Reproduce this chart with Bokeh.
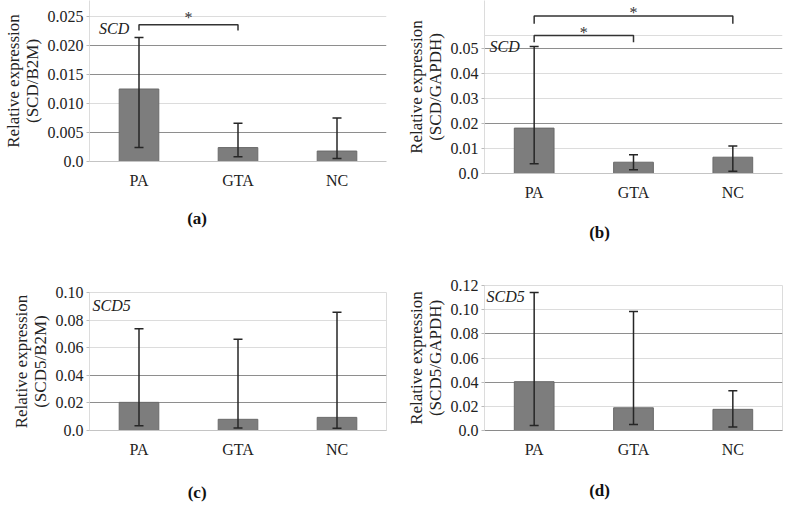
from bokeh.plotting import figure
from bokeh.models import (FactorRange, Range1d, FixedTicker, Grid, Whisker, TeeHead,
                          ColumnDataSource, Label)
from bokeh.layouts import row, column
from bokeh.embed import file_html
from bokeh.resources import INLINE
from bokeh.core.properties import value

categories = ["PA", "GTA", "NC"]

# (a) SCD / B2M
a_mean = [0.0125, 0.0024, 0.0018]
a_low = [0.0024, 0.0008, 0.0005]
a_high = [0.0214, 0.0066, 0.0075]
a_ticks = [0.0, 0.005, 0.010, 0.015, 0.020, 0.025]
a_tick_labels = ["0.0", "0.005", "0.010", "0.015", "0.020", "0.025"]
a_sig_pairs = [("PA", "GTA")]
a_sig_levels = [0.0236]

# (b) SCD / GAPDH
b_mean = [0.0181, 0.0045, 0.0065]
b_low = [0.0039, 0.0015, 0.0009]
b_high = [0.0507, 0.0075, 0.0110]
b_ticks = [0.0, 0.01, 0.02, 0.03, 0.04, 0.05]
b_tick_labels = ["0.0", "0.01", "0.02", "0.03", "0.04", "0.05"]
b_sig_pairs = [("PA", "GTA"), ("PA", "NC")]
b_sig_levels = [0.0550, 0.0628]

# (c) SCD5 / B2M
c_mean = [0.0204, 0.0081, 0.0095]
c_low = [0.0035, 0.0019, 0.0017]
c_high = [0.0738, 0.0662, 0.0856]
c_ticks = [0.0, 0.02, 0.04, 0.06, 0.08, 0.10]
c_tick_labels = ["0.0", "0.02", "0.04", "0.06", "0.08", "0.10"]

# (d) SCD5 / GAPDH
d_mean = [0.0404, 0.0188, 0.0175]
d_low = [0.0041, 0.0049, 0.0028]
d_high = [0.1143, 0.0985, 0.0330]
d_ticks = [0.0, 0.02, 0.04, 0.06, 0.08, 0.10, 0.12]
d_tick_labels = ["0.0", "0.02", "0.04", "0.06", "0.08", "0.10", "0.12"]

panel_letters = ["(a)", "(b)", "(c)", "(d)"]

SERIF = "Liberation Serif"
DARK_GRID = "#8e8e8e"
LIGHT_GRID = "#dcdcdc"
BAR_FILL = "#7d7d7d"
BAR_LINE = "#6a6a6a"
ERR = "#262626"


def make_panel(mean, low, high, ticks, tick_labels, dark, light, y_end, ylabel,
               gene, gene_x, gene_y, sig_pairs, sig_levels, sig_drop, star_off,
               width, height, borders, outline, xaxis_color):
    left, right, top, bottom = borders
    p = figure(x_range=FactorRange(*categories), y_range=Range1d(0, y_end),
               width=width, height=height, output_backend="svg",
               toolbar_location=None, min_border_left=left,
               min_border_right=right, min_border_top=top,
               min_border_bottom=bottom)
    p.outline_line_color = outline
    p.background_fill_color = "white"
    p.border_fill_color = "white"

    src = ColumnDataSource(dict(cat=categories, mean=mean, low=low, high=high))
    p.vbar(x="cat", top="mean", width=0.4, source=src, fill_color=BAR_FILL,
           line_color=BAR_LINE, line_width=1)
    p.add_layout(Whisker(source=src, base="cat", upper="high", lower="low",
                         level="overlay", line_color=ERR, line_width=1.5,
                         upper_head=TeeHead(size=9, line_color=ERR, line_width=1.5),
                         lower_head=TeeHead(size=9, line_color=ERR, line_width=1.5)))

    # grids
    p.xgrid.visible = False
    p.ygrid.ticker = FixedTicker(ticks=dark)
    p.ygrid.grid_line_color = DARK_GRID
    p.ygrid.grid_line_width = 1
    p.add_layout(Grid(dimension=1, ticker=FixedTicker(ticks=light),
                      grid_line_color=LIGHT_GRID, grid_line_width=1))

    # y axis
    p.yaxis.ticker = FixedTicker(ticks=ticks)
    p.yaxis.major_label_overrides = dict(zip(ticks, tick_labels))
    p.yaxis.axis_label = "Relative expression\n(" + ylabel + ")"
    p.yaxis.axis_label_text_font = SERIF
    p.yaxis.axis_label_text_font_size = "17px"
    p.yaxis.axis_label_text_font_style = "normal"
    p.yaxis.axis_label_text_line_height = 1.0
    p.yaxis.axis_label_text_color = "#222222"
    p.yaxis.axis_label_standoff = 3
    p.yaxis.major_label_text_font = SERIF
    p.yaxis.major_label_text_font_size = "16px"
    p.yaxis.major_label_text_color = "#222222"
    p.yaxis.major_label_standoff = 3
    p.yaxis.axis_line_color = LIGHT_GRID
    p.yaxis.major_tick_line_color = "#bbbbbb"
    p.yaxis.major_tick_out = 3
    p.yaxis.major_tick_in = 0
    p.yaxis.minor_tick_line_color = None

    # x axis
    p.xaxis.major_label_text_font = SERIF
    p.xaxis.major_label_text_font_size = "16px"
    p.xaxis.major_label_text_color = "#222222"
    p.xaxis.major_label_standoff = 4
    p.xaxis.axis_line_color = xaxis_color
    p.xaxis.major_tick_line_color = None
    p.xaxis.minor_tick_line_color = None

    # gene label
    p.add_layout(Label(x=gene_x, y=gene_y, text=gene, text_font=SERIF,
                       text_font_size="16px", text_font_style="italic",
                       text_color="#222222", text_baseline="middle",
                       text_align="left"))

    # significance brackets
    for (c1, c2), lvl, dr in zip(sig_pairs, sig_levels, sig_drop):
        p.line(x=[c1, c1, c2, c2], y=[lvl - dr, lvl, lvl, lvl - dr],
               line_color="#333333", line_width=1.5)
        mid = (categories.index(c1) + categories.index(c2)) / 2 + 0.5
        p.text(x=[mid], y=[lvl], text=["*"], text_align="center",
               text_baseline="bottom", text_font=value(SERIF),
               text_font_size="16px", text_color="#333333", y_offset=star_off)
    return p


def make_letter(panel, letter, lab_x, lab_y, width, height, left, right):
    q = figure(x_range=panel.x_range, y_range=Range1d(0, 1), width=width,
               height=height, output_backend="svg", toolbar_location=None,
               min_border_left=left, min_border_right=right, min_border_top=0,
               min_border_bottom=0)
    q.xaxis.visible = False
    q.yaxis.visible = False
    q.xgrid.visible = False
    q.ygrid.visible = False
    q.outline_line_color = None
    q.text(x=[lab_x], y=[lab_y], text=[letter], text_align="center",
           text_baseline="middle", text_font=value(SERIF),
           text_font_size="17px", text_font_style="bold", text_color="#111111")
    return q


pa = make_panel(a_mean, a_low, a_high, a_ticks, a_tick_labels,
                [0.005, 0.015, 0.020], [0.010, 0.025], 0.02776, "SCD/B2M",
                "SCD", 0.097, 0.0229, a_sig_pairs, a_sig_levels, [0.001], 1,
                400, 200, (77, 14, 0, 39), None, "#c4c4c4")
pb = make_panel(b_mean, b_low, b_high, b_ticks, b_tick_labels,
                [0.02, 0.05], [0.01, 0.03, 0.04, 0.055], 0.0690, "SCD/GAPDH",
                "SCD", 0.05, 0.0505, b_sig_pairs, b_sig_levels, [0.0027, 0.0031], 5,
                383, 212, (84, 1, 0, 39), None, "#c4c4c4")
pc = make_panel(c_mean, c_low, c_high, c_ticks, c_tick_labels,
                [0.02, 0.04], [0.06, 0.08], 0.10, "SCD5/B2M",
                "SCD5", 0.03, 0.0906, [], [], [], 0,
                400, 202, (77, 14, 34, 27), LIGHT_GRID, "#c4c4c4")
pd_ = make_panel(d_mean, d_low, d_high, d_ticks, d_tick_labels,
                 [0.04, 0.08], [0.02, 0.06, 0.10], 0.12, "SCD5/GAPDH",
                 "SCD5", 0.02, 0.1113, [], [], [], 0,
                 383, 202, (84, 1, 27, 28), LIGHT_GRID, "#8a8a8a")

la = make_letter(pa, panel_letters[0], 1.087, 0.69, 400, 58, 77, 14)
lb = make_letter(pb, panel_letters[1], 1.158, 0.565, 383, 46, 84, 1)
lc = make_letter(pc, panel_letters[2], 1.087, 0.24, 400, 42, 77, 14)
ld = make_letter(pd_, panel_letters[3], 1.158, 0.29, 383, 42, 84, 1)

layout = row(column(pa, la, pc, lc), column(pb, lb, pd_, ld))
open("out.html", "w").write(file_html(layout, INLINE))
